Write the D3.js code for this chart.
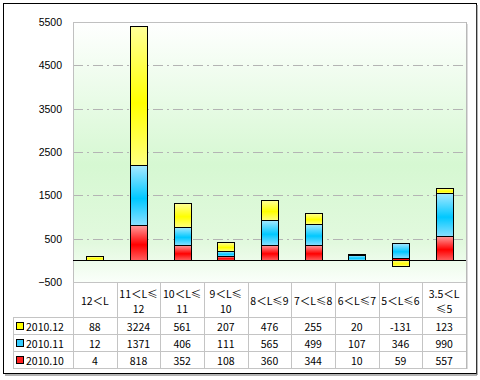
<!DOCTYPE html>
<html><head><meta charset="utf-8">
<script src="https://cdn.jsdelivr.net/npm/d3@7"></script>
<style>body{margin:0;background:#fff}svg{display:block}</style>
</head><body>
<script>
const categories = ["12＜L","11＜L≤12","10＜L≤11","9＜L≤10","8＜L≤9","7＜L≤8","6＜L≤7","5＜L≤6","3.5＜L≤5"];
const categoryLines = [["12＜L"],["11＜L≤","12"],["10＜L≤","11"],["9＜L≤","10"],["8＜L≤9"],["7＜L≤8"],["6＜L≤7"],["5＜L≤6"],["3.5＜L","≤5"]];
const seriesNames = ["2010.12","2010.11","2010.10"];
const s201012 = [88,3224,561,207,476,255,20,-131,123];
const s201011 = [12,1371,406,111,565,499,107,346,990];
const s201010 = [4,818,352,108,360,344,10,59,557];
const yTicks = [-500,500,1500,2500,3500,4500,5500];
const gridTicks = [500,1500,2500,3500,4500];

const seriesValues = {"2010.12": s201012, "2010.11": s201011, "2010.10": s201010};
const colors = {"2010.12": ["#ffff99","#ffff00","#ffff80"], "2010.11": ["#a6e8ff","#00c8ff","#8ae0ff"], "2010.10": ["#ff9a9a","#ff0000","#ff6060"]};
const legendColors = {"2010.12":"#ffff00","2010.11":"#33ccff","2010.10":"#ff2020"};

const W = 480, H = 380;
const svg = d3.select("body").append("svg").attr("width", W).attr("height", H);
const defs = svg.append("defs");

const pL = 73, pR = 466, pT = 22, pB = 282;
const x = d3.scaleBand().domain(categories).range([pL, pR]).padding(0);
const y = d3.scaleLinear().domain([-500, 5500]).range([pB, pT]);

const bg = defs.append("linearGradient").attr("id","bg").attr("x1",0).attr("y1",0).attr("x2",0).attr("y2",1);
bg.append("stop").attr("offset","0%").attr("stop-color","#ffffff");
bg.append("stop").attr("offset","55%").attr("stop-color","#d6f8d2");
bg.append("stop").attr("offset","85%").attr("stop-color","#e2f9de");
bg.append("stop").attr("offset","100%").attr("stop-color","#fafffa");

seriesNames.forEach((s,i) => {
  const g = defs.append("linearGradient").attr("id","g"+i).attr("x1",0).attr("y1",0).attr("x2",0).attr("y2",1);
  g.append("stop").attr("offset","0%").attr("stop-color",colors[s][0]);
  g.append("stop").attr("offset","55%").attr("stop-color",colors[s][1]);
  g.append("stop").attr("offset","100%").attr("stop-color",colors[s][2]);
});

svg.append("rect").attr("x",3.5).attr("y",3.5).attr("width",473).attr("height",370).attr("fill","#fff").attr("stroke","#000").attr("stroke-width",1);
svg.append("line").attr("x1",477).attr("x2",477).attr("y1",5).attr("y2",375).attr("stroke","#666");
svg.append("line").attr("x1",5).attr("x2",477).attr("y1",375).attr("y2",375).attr("stroke","#666");

svg.append("rect").attr("x",pL).attr("y",pT).attr("width",pR-pL).attr("height",pB-pT).attr("fill","url(#bg)");

svg.append("g").selectAll("line").data(gridTicks).join("line")
  .attr("x1",pL).attr("x2",pR).attr("y1",d=>Math.round(y(d))+0.5).attr("y2",d=>Math.round(y(d))+0.5)
  .attr("stroke","#b4b4b4").attr("stroke-dasharray","10,4,2,4");

svg.append("rect").attr("x",pL+0.5).attr("y",pT+0.5).attr("width",pR-pL).attr("height",pB-pT).attr("fill","none").attr("stroke","#c0c0c0");

const yAxis = d3.axisLeft(y).tickValues(yTicks).tickSize(0).tickPadding(0).tickFormat(d3.format("d"));
const ya = svg.append("g").attr("transform",`translate(${62},0)`).call(yAxis);
ya.select(".domain").remove();
ya.selectAll("text").attr("font-family","'Liberation Sans', Arial, sans-serif").attr("font-size","10.5px").attr("fill","#000");

const table = categories.map((c,i) => { const o = {cat:c}; seriesNames.forEach(s => o[s] = seriesValues[s][i]); return o; });
const stackKeys = ["2010.10","2010.11","2010.12"];
const stacked = d3.stack().keys(stackKeys).offset(d3.stackOffsetDiverging)(table);
const bw = Math.round(x.bandwidth()*0.39);
stacked.forEach(layer => {
  const gi = seriesNames.indexOf(layer.key);
  svg.append("g").selectAll("rect").data(layer).join("rect")
    .attr("x", d => Math.round(x(d.data.cat) + (x.bandwidth()-bw)/2)+0.5)
    .attr("y", d => Math.round(y(d[1]))+0.5)
    .attr("width", bw)
    .attr("height", d => Math.max(0, Math.round(y(d[0])) - Math.round(y(d[1]))))
    .attr("fill", `url(#g${gi})`)
    .attr("stroke","#000").attr("stroke-width",1);
});

svg.append("line").attr("x1",pL).attr("x2",pR+1).attr("y1",Math.round(y(0))+0.5).attr("y2",Math.round(y(0))+0.5).attr("stroke","#000");

const rowTops = [317, 334, 351];
const tableBottom = 368;
const legendLeft = 13;
const gridColor = "#c4c4c4";
const tg = svg.append("g");
tg.append("line").attr("x1",pL).attr("x2",pR+1).attr("y1",pB+0.5).attr("y2",pB+0.5).attr("stroke",gridColor);
rowTops.concat([tableBottom]).forEach(yy => {
  tg.append("line").attr("x1",legendLeft).attr("x2",pR+1).attr("y1",yy+0.5).attr("y2",yy+0.5).attr("stroke",gridColor);
});
tg.append("line").attr("x1",legendLeft+0.5).attr("x2",legendLeft+0.5).attr("y1",rowTops[0]).attr("y2",tableBottom).attr("stroke",gridColor);
categories.forEach(c => {
  const xx = Math.round(x(c))+0.5;
  tg.append("line").attr("x1",xx).attr("x2",xx).attr("y1",pB).attr("y2",tableBottom).attr("stroke",gridColor);
});
tg.append("line").attr("x1",pR+0.5).attr("x2",pR+0.5).attr("y1",pT).attr("y2",tableBottom+1).attr("stroke","#b8b8b8");
tg.append("line").attr("x1",pR+1.5).attr("x2",pR+1.5).attr("y1",pT+2).attr("y2",tableBottom+1).attr("stroke","#dcdcdc");

const tfont = "SimSun, 'Noto Sans CJK SC', sans-serif";
categories.forEach((c,i) => {
  const lines = categoryLines[i];
  const cx = x(c) + x.bandwidth()/2;
  const cy = (pB + rowTops[0]) / 2 + 1;
  lines.forEach((ln,j) => {
    tg.append("text").attr("x",cx).attr("y", cy + (j - (lines.length-1)/2)*15)
      .attr("text-anchor","middle").attr("dominant-baseline","central")
      .attr("font-family",tfont).attr("font-size","10.5px").attr("fill","#000").text(ln);
  });
});
seriesNames.forEach((s,r) => {
  const cy = rowTops[r] + 8.5;
  tg.append("rect").attr("x",16.5).attr("y",Math.round(cy-4)+0.5).attr("width",7).attr("height",7)
    .attr("fill",legendColors[s]).attr("stroke","#000");
  tg.append("text").attr("x",26).attr("y",cy+1).attr("dominant-baseline","central")
    .attr("font-family",tfont).attr("font-size","10.5px").attr("fill","#000").text(s);
  categories.forEach((c,i) => {
    tg.append("text").attr("x",x(c)+x.bandwidth()/2).attr("y",cy+1)
      .attr("text-anchor","middle").attr("dominant-baseline","central")
      .attr("font-family",tfont).attr("font-size","10.5px").attr("fill","#000").text(seriesValues[s][i]);
  });
});
</script>
</body></html>
